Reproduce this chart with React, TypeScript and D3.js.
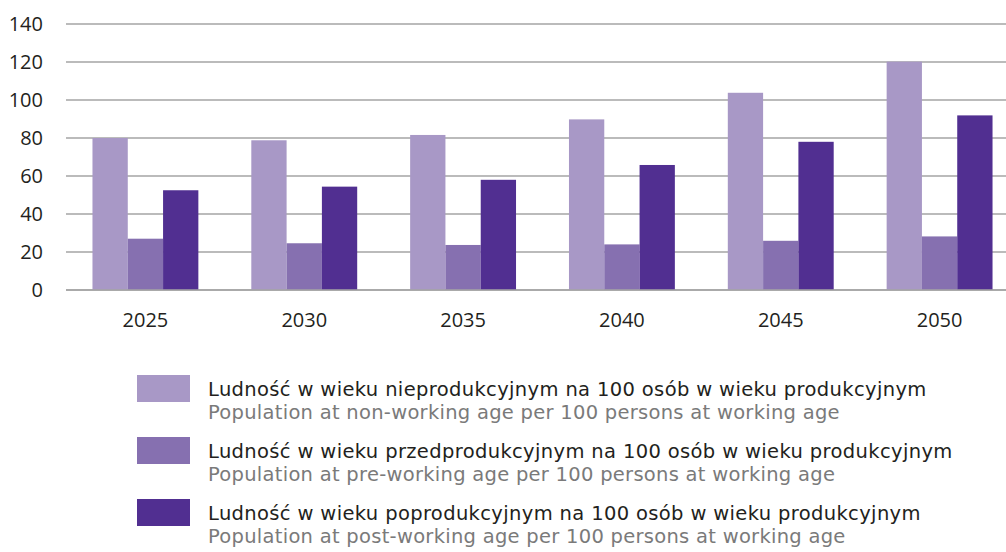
import React from "react";
import * as d3 from "d3";

const years = ["2025", "2030", "2035", "2040", "2045", "2050"];
const nonWorking = [80, 78.8, 81.6, 89.8, 103.8, 120.2];
const preWorking = [27, 24.6, 23.7, 24.0, 25.9, 28.2];
const postWorking = [52.5, 54.4, 58, 65.8, 78, 91.9];
const yTicks = [0, 20, 40, 60, 80, 100, 120, 140];
const seriesPl = [
  "Ludność w wieku nieprodukcyjnym na 100 osób w wieku produkcyjnym",
  "Ludność w wieku przedprodukcyjnym na 100 osób w wieku produkcyjnym",
  "Ludność w wieku poprodukcyjnym na 100 osób w wieku produkcyjnym",
];
const seriesEn = [
  "Population at non-working age per 100 persons at working age",
  "Population at pre-working age per 100 persons at working age",
  "Population at post-working age per 100 persons at working age",
];
const colors = ["#a898c6", "#8670b0", "#512f91"];

export default function App() {
  const W = 1006, H = 552;
  const series = [nonWorking, preWorking, postWorking];
  const y = d3.scaleLinear().domain([0, 140]).range([290, 24]);
  const x = d3.scaleBand<string>().domain(years).range([66, 1019]).paddingInner(1 / 3).paddingOuter(1 / 6);
  const xs = d3.scaleBand<number>().domain([0, 1, 2]).range([0, x.bandwidth()]);
  const font = "'Open Sans', sans-serif";
  const legendFont = "'DejaVu Sans', sans-serif";
  return (
    <svg width={W} height={H} style={{ position: "fixed", left: 0, top: 0, background: "#fff" }} fontFamily={font}>
      {yTicks.map((t) => (
        <g key={t}>
          <line x1={66} x2={W} y1={y(t)} y2={y(t)} stroke="#a4a4a4" strokeWidth={1.5} />
          <text x={43} y={y(t)} dy="0.36em" textAnchor="end" fontSize={20} fill="#231f20">{t}</text>
        </g>
      ))}
      {years.map((yr, i) => (
        <g key={yr}>
          {series.map((s, j) => (
            <rect key={j} x={(x(yr) as number) + (xs(j) as number)} y={y(s[i])} width={xs.bandwidth()} height={y(0) - y(s[i])} fill={colors[j]} />
          ))}
          <text x={(x(yr) as number) + x.bandwidth() / 2} y={327} textAnchor="middle" fontSize={20} fill="#231f20">{yr}</text>
        </g>
      ))}
      <line x1={66} x2={W} y1={y(0)} y2={y(0)} stroke="#a4a4a4" strokeWidth={1.7} />
      {seriesPl.map((s, i) => (
        <g key={s} transform={`translate(0, ${i * 62})`} fontFamily={legendFont}>
          <rect x={137} y={375} width={53} height={27} fill={colors[i]} />
          <text x={208} y={396} fontSize={19.5} letterSpacing={0.36} fill="#231f20">{s}</text>
          <text x={208} y={419} fontSize={19.5} letterSpacing={0.28} fill="#7a7a7a">{seriesEn[i]}</text>
        </g>
      ))}
    </svg>
  );
}
